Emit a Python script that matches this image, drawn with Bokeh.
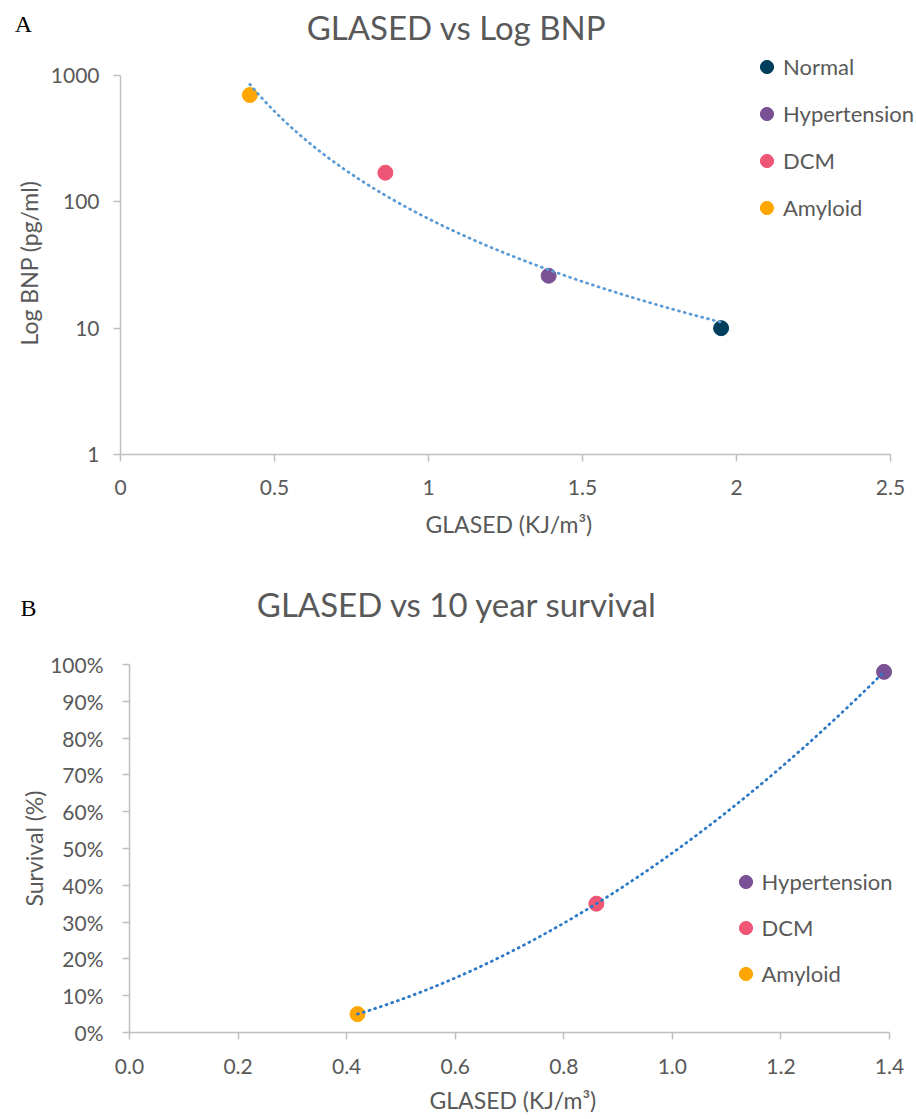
import numpy as np
from bokeh.plotting import figure
from bokeh.models import Label, Legend, LegendItem, FixedTicker, Range1d, Title
from bokeh.embed import file_html
from bokeh.resources import INLINE

# ---------------- data ----------------
groups_a = ["Normal", "Hypertension", "DCM", "Amyloid"]
glased_a = [1.95, 1.39, 0.86, 0.42]
bnp_a = [10, 26, 170, 700]
colors_a = ["#003f5c", "#7a5195", "#ef5675", "#ffa600"]

groups_b = ["Hypertension", "DCM", "Amyloid"]
glased_b = [1.39, 0.86, 0.42]
survival_b = [98, 35, 5]
colors_b = ["#7a5195", "#ef5675", "#ffa600"]

xticks_a = [0, 0.5, 1, 1.5, 2, 2.5]
xtick_labels_a = ["0", "0.5", "1", "1.5", "2", "2.5"]
yticks_a = [1, 10, 100, 1000]
ytick_labels_a = ["1", "10", "100", "1000"]

xticks_b = [0, 0.2, 0.4, 0.6, 0.8, 1.0, 1.2, 1.4]
xtick_labels_b = ["0.0", "0.2", "0.4", "0.6", "0.8", "1.0", "1.2", "1.4"]
yticks_b = [0, 10, 20, 30, 40, 50, 60, 70, 80, 90, 100]
ytick_labels_b = ["0%", "10%", "20%", "30%", "40%", "50%", "60%", "70%", "80%", "90%", "100%"]

title_a = "GLASED vs Log BNP"
title_b = "GLASED vs 10 year survival"
xlabel = "GLASED (KJ/m\u00b3)"
ylabel_a = "Log BNP (pg/ml)"
ylabel_b = "Survival (%)"

FONT = "Lato"
GRAY = "#595959"
AXIS = "#bfbfbf"
W = 916


def style_axes(p):
    for ax in (p.xaxis[0], p.yaxis[0]):
        ax.axis_line_color = AXIS
        ax.axis_line_width = 1.5
        ax.major_tick_line_color = AXIS
        ax.major_tick_line_width = 1.5
        ax.major_tick_out = 7
        ax.major_tick_in = 0
        ax.minor_tick_line_color = None
        ax.major_label_text_font = FONT
        ax.major_label_text_font_size = "21px"
        ax.major_label_text_color = GRAY
    p.xgrid.visible = False
    p.ygrid.visible = False
    p.outline_line_color = None
    p.background_fill_color = "white"
    p.border_fill_color = "white"


def axis_title(p, text, side, offset, standoff):
    # align="left" so that the offset is honoured; offset measured from the frame corner
    p.add_layout(Title(text=text, align="left", offset=offset, standoff=standoff,
                       text_font=FONT, text_font_size="23px", text_color=GRAY,
                       text_font_style="normal"), side)


def strip(height, title, tx, ty, letter, lx, ly):
    s = figure(width=W, height=height, output_backend="svg", toolbar_location=None,
               x_axis_location=None, y_axis_location=None,
               min_border=0, x_range=Range1d(0, 1), y_range=Range1d(0, 1))
    s.xgrid.visible = False
    s.ygrid.visible = False
    s.outline_line_color = None
    s.add_layout(Label(x=tx, y=height - ty, x_units="screen", y_units="screen", text=title,
                       text_font=FONT, text_font_size="33px", text_color=GRAY,
                       text_align="center", text_baseline="middle"))
    s.add_layout(Label(x=lx, y=height - ly, x_units="screen", y_units="screen", text=letter,
                       text_font="Liberation Serif", text_font_size="24px", text_color="black",
                       text_align="center", text_baseline="middle"))
    return s


# ---------------- panel A ----------------
strip_a = strip(50, title_a, 456, 26, "A", 23, 23)

# axes: x=0 at 120px, 2.5 at 890px ; y=1 at 454px, 1000 at 75px (frame top at page y 50)
A_left, A_top, A_bottom, A_right_axis, A_top_axis = 120, 50, 454, 890, 75
a_px_unit = (A_right_axis - A_left) / 2.5
a_px_dec = (A_bottom - A_top_axis) / 3.0
a_xmax = (W - A_left) / a_px_unit
a_ymax = 10 ** ((A_bottom - A_top) / a_px_dec)

pa = figure(width=W, height=498, output_backend="svg", toolbar_location=None,
            y_axis_type="log", x_range=Range1d(0, a_xmax), y_range=Range1d(1, a_ymax),
            min_border_left=A_left, min_border_right=0, min_border_top=0, min_border_bottom=94,
            frame_width=W - A_left, frame_height=A_bottom - A_top)
style_axes(pa)
pa.xaxis[0].bounds = (0, 2.5)
pa.yaxis[0].bounds = (1, 1000)
pa.xaxis[0].ticker = FixedTicker(ticks=xticks_a)
pa.xaxis[0].major_label_overrides = dict(zip(xticks_a, xtick_labels_a))
pa.yaxis[0].ticker = FixedTicker(ticks=yticks_a)
pa.yaxis[0].major_label_overrides = dict(zip(yticks_a, ytick_labels_a))
pa.xaxis[0].major_label_standoff = 18
pa.yaxis[0].major_label_standoff = 14
axis_title(pa, xlabel, "below", 505 - 80 - A_left, 20)
axis_title(pa, ylabel_a, "left", A_bottom - (264 + 81), 10)

items_a = []
for g, xv, yv, c in zip(groups_a, glased_a, bnp_a, colors_a):
    r = pa.scatter(x=[xv], y=[yv], size=15, fill_color=c, line_color=c)
    items_a.append(LegendItem(label=g, renderers=[r]))

# power trendline fitted to the data (as in the spreadsheet)
bfit, afit = np.polyfit(np.log(glased_a), np.log(bnp_a), 1)
xs_a = np.linspace(min(glased_a), max(glased_a), 200)
ys_a = np.exp(afit) * xs_a ** bfit
pa.line(xs_a, ys_a, line_color="#5b9bd5", line_width=2.75, line_dash="1 5", line_cap="round")

leg_a = Legend(items=items_a, location=(630, 230), orientation="vertical",
               glyph_width=33, glyph_height=33, label_height=33, spacing=14,
               label_standoff=0, padding=0, margin=0,
               border_line_color=None, background_fill_alpha=0,
               label_text_font=FONT, label_text_font_size="22px", label_text_color=GRAY)
pa.add_layout(leg_a, "center")

# ---------------- panel B ----------------
strip_b = strip(82, title_b, 457, 55, "B", 28, 59)

B_left, B_top, B_bottom, B_right_axis, B_top_axis = 129, 630, 1032, 889, 664
b_px_unit = (B_right_axis - B_left) / 1.4
b_px_pct = (B_bottom - B_top_axis) / 100.0
b_xmax = (W - B_left) / b_px_unit
b_ymax = (B_bottom - B_top) / b_px_pct

pb = figure(width=W, height=489, output_backend="svg", toolbar_location=None,
            x_range=Range1d(0, b_xmax), y_range=Range1d(0, b_ymax),
            min_border_left=B_left, min_border_right=0, min_border_top=0, min_border_bottom=87,
            frame_width=W - B_left, frame_height=B_bottom - B_top)
style_axes(pb)
pb.xaxis[0].bounds = (0, 1.4)
pb.yaxis[0].bounds = (0, 100)
pb.xaxis[0].ticker = FixedTicker(ticks=xticks_b)
pb.xaxis[0].major_label_overrides = dict(zip(xticks_b, xtick_labels_b))
pb.yaxis[0].ticker = FixedTicker(ticks=yticks_b)
pb.yaxis[0].major_label_overrides = dict(zip(yticks_b, ytick_labels_b))
pb.xaxis[0].major_label_standoff = 19
pb.yaxis[0].major_label_standoff = 19
axis_title(pb, xlabel, "below", 509 - 80 - B_left, 14)
axis_title(pb, ylabel_b, "left", B_bottom - (848 + 58), 0)

items_b = []
for g, xv, yv, c in zip(groups_b, glased_b, survival_b, colors_b):
    r = pb.scatter(x=[xv], y=[yv], size=15, fill_color=c, line_color=c)
    items_b.append(LegendItem(label=g, renderers=[r]))

# second-order polynomial trendline fitted to the data
coef_b = np.polyfit(glased_b, survival_b, 2)
xs_b = np.linspace(min(glased_b), max(glased_b), 200)
ys_b = np.polyval(coef_b, xs_b)
pb.line(xs_b, ys_b, line_color="#2a78c6", line_width=2.75, line_dash="1 5", line_cap="round")

leg_b = Legend(items=items_b, location=(599.5, 42.5), orientation="vertical",
               glyph_width=33, glyph_height=33, label_height=33, spacing=13,
               label_standoff=0, padding=0, margin=0,
               border_line_color=None, background_fill_alpha=0,
               label_text_font=FONT, label_text_font_size="22px", label_text_color=GRAY)
pb.add_layout(leg_b, "center")

open("out.html", "w").write(file_html([strip_a, pa, strip_b, pb], INLINE))
